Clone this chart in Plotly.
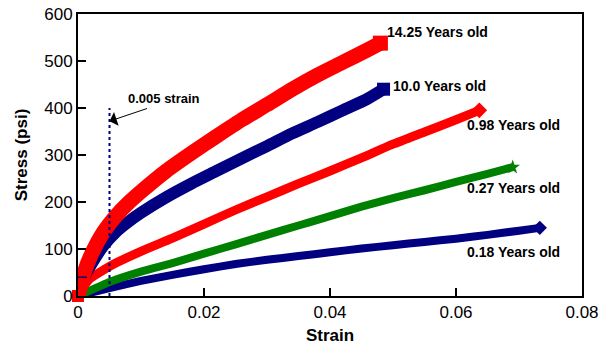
import plotly.graph_objects as go

# Stress-strain curves by specimen age
strain_1425 = [0, 0.001, 0.002, 0.004, 0.006, 0.008, 0.010, 0.014, 0.018, 0.022, 0.026, 0.030, 0.034, 0.038, 0.042, 0.046, 0.048]
stress_1425 = [0, 50, 85, 135, 170, 198, 222, 266, 304, 340, 375, 407, 440, 470, 497, 524, 538]

strain_100 = [0, 0.001, 0.002, 0.004, 0.006, 0.008, 0.010, 0.014, 0.018, 0.022, 0.026, 0.030, 0.034, 0.038, 0.042, 0.046, 0.0485]
stress_100 = [0, 40, 65, 106, 136, 158, 177, 210, 239, 266, 293, 319, 346, 370, 395, 420, 440]

strain_098 = [0, 0.001, 0.002, 0.004, 0.006, 0.010, 0.015, 0.020, 0.025, 0.030, 0.035, 0.040, 0.045, 0.050, 0.055, 0.060, 0.0637]
stress_098 = [0, 22, 38, 55, 70, 95, 123, 153, 183, 211, 239, 266, 294, 323, 349, 375, 395]

strain_027 = [0, 0.002, 0.005, 0.010, 0.015, 0.020, 0.025, 0.030, 0.035, 0.040, 0.045, 0.050, 0.055, 0.060, 0.065, 0.069]
stress_027 = [0, 12, 30, 52, 70, 90, 110, 130, 150, 170, 190, 208, 225, 243, 260, 274]

strain_018 = [0, 0.002, 0.005, 0.010, 0.015, 0.020, 0.025, 0.030, 0.035, 0.040, 0.045, 0.050, 0.055, 0.060, 0.065, 0.070, 0.0733]
stress_018 = [0, 7, 17, 32, 45, 57, 68, 77, 85, 93, 101, 108, 115, 122, 130, 139, 145]

x_ticks = [0, 0.02, 0.04, 0.06, 0.08]
x_tick_text = ["0", "0.02", "0.04", "0.06", "0.08"]
y_ticks = [0, 100, 200, 300, 400, 500, 600]

yield_strain = 0.005

RED = "#FF0000"
NAVY = "#000080"
GREEN = "#008000"
FONT = "Arial, Liberation Sans, sans-serif"

series = [
    # (x, y, colour, width, end symbol, end size, label, label x, label y)
    (strain_018, stress_018, NAVY, 8, "diamond", 11, "0.18 Years old", 0.0615, 94),
    (strain_027, stress_027, GREEN, 8, "star", 11, "0.27 Years old", 0.0615, 230),
    (strain_098, stress_098, RED, 9, "diamond", 12, "0.98 Years old", 0.0614, 363),
    (strain_100, stress_100, NAVY, 12, "square", 13, "10.0 Years old", 0.0497, 447),
    (strain_1425, stress_1425, RED, 15, "square", 15, "14.25 Years old", 0.0487, 562),
]

fig = go.Figure()
annotations = []
for xs, ys, col, w, sym, msize, label, lx, ly in series:
    fig.add_trace(go.Scatter(
        x=xs, y=ys, mode="lines",
        line=dict(color=col, width=w, shape="spline", smoothing=0.6),
        hoverinfo="skip", showlegend=False,
    ))
    fig.add_trace(go.Scatter(
        x=[xs[-1]], y=[ys[-1]], mode="markers",
        marker=dict(symbol=sym, size=msize, color=col, line=dict(width=0)),
        hoverinfo="skip", showlegend=False,
    ))
    annotations.append(dict(
        x=lx, y=ly, xref="x", yref="y", text="<b>" + label + "</b>",
        showarrow=False, xanchor="left", yanchor="middle",
        font=dict(family=FONT, size=14, color="black"),
    ))

# origin marker
fig.add_trace(go.Scatter(
    x=[strain_1425[0]], y=[stress_1425[0]], mode="markers",
    marker=dict(symbol="square", size=12, color=RED),
    cliponaxis=False, hoverinfo="skip", showlegend=False,
))

# 0.005 strain reference line
fig.add_shape(type="line", x0=yield_strain, x1=yield_strain, y0=0, y1=400,
              xref="x", yref="y", line=dict(color=NAVY, width=2, dash="dot"))
fig.add_shape(type="line", x0=0, x1=0.0017, y0=40, y1=40,
              xref="x", yref="y", line=dict(color=NAVY, width=1.5, dash="dash"))

annotations.append(dict(
    x=yield_strain, y=372, xref="x", yref="y", ax=0.0112, ay=400, axref="x", ayref="y",
    text="", showarrow=True, arrowhead=1, arrowsize=2.4, arrowwidth=1, arrowcolor="black",
))
annotations.append(dict(
    x=0.0137, y=421, xref="x", yref="y", text="<b>0.005 strain</b>",
    showarrow=False, font=dict(family=FONT, size=13, color="black"),
))

fig.update_layout(
    width=609, height=347,
    margin=dict(l=78, r=27, t=14, b=51),
    paper_bgcolor="white", plot_bgcolor="white",
    annotations=annotations,
    font=dict(family=FONT, color="black"),
    xaxis=dict(
        range=[0, 0.08], tickvals=x_ticks, ticktext=x_tick_text,
        ticks="inside", ticklen=8, tickwidth=2, tickcolor="black",
        showline=True, linecolor="black", linewidth=2, mirror=True,
        showgrid=False, zeroline=False, automargin=False,
        tickfont=dict(size=17, family=FONT),
        title=dict(text="<b>Strain</b>", font=dict(size=17, family=FONT), standoff=8),
    ),
    yaxis=dict(
        range=[0, 600], tickvals=y_ticks,
        ticks="inside", ticklen=8, tickwidth=2, tickcolor="black",
        showline=True, linecolor="black", linewidth=2, mirror=True,
        showgrid=False, zeroline=False, automargin=False,
        tickfont=dict(size=17, family=FONT),
        title=dict(text="<b>Stress (psi)</b>", font=dict(size=17, family=FONT), standoff=12),
    ),
)

fig.write_html("out.html")
